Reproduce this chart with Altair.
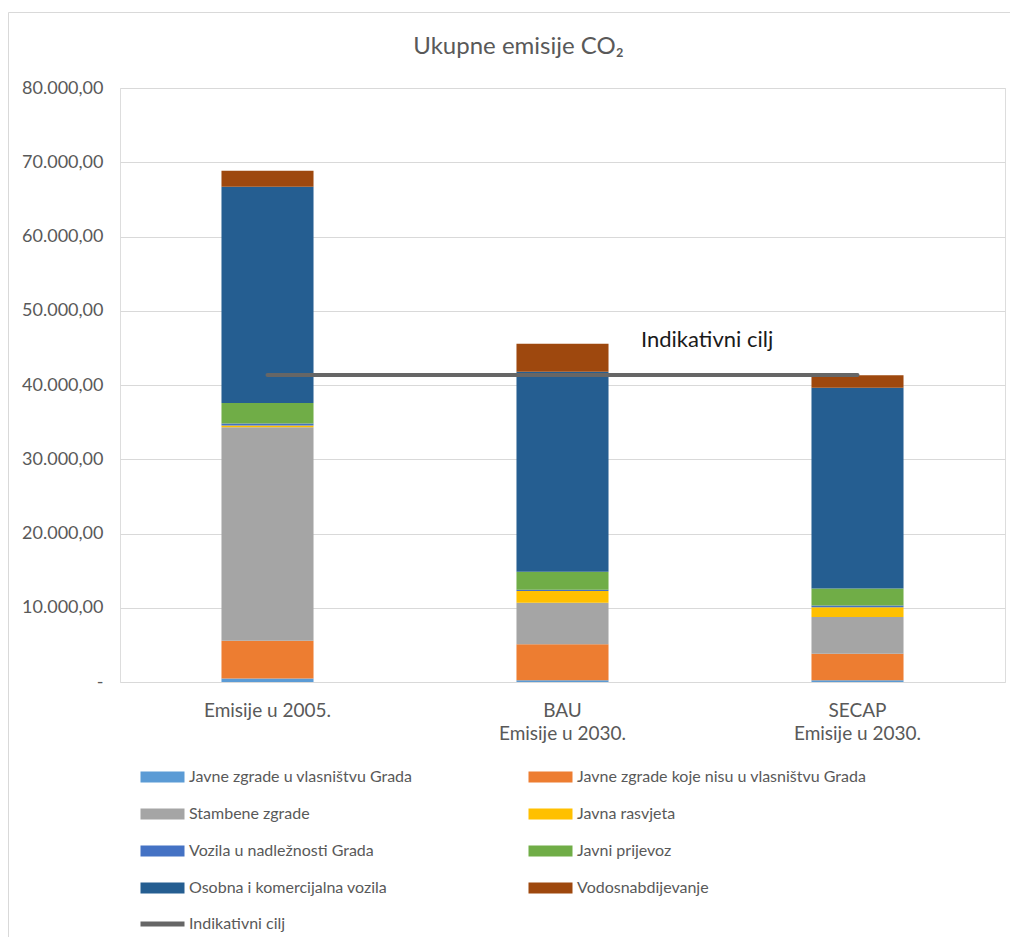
import altair as alt
import pandas as pd

categories = ["Emisije u 2005.", "BAU\nEmisije u 2030.", "SECAP\nEmisije u 2030."]
series = [
    "Javne zgrade u vlasništvu Grada",
    "Javne zgrade koje nisu u vlasništvu Grada",
    "Stambene zgrade",
    "Javna rasvjeta",
    "Vozila u nadležnosti Grada",
    "Javni prijevoz",
    "Osobna i komercijalna vozila",
    "Vodosnabdijevanje",
]
colors = ["#5b9bd5", "#ed7d31", "#a5a5a5", "#ffc000", "#4472c4", "#70ad47", "#255e91", "#9e480e"]

javne_vl = [460, 230, 220]
javne_nisu = [5110, 4860, 3600]
stambene = [28740, 5590, 4940]
rasvjeta = [250, 1570, 1310]
vozila = [260, 180, 220]
prijevoz = [2740, 2430, 2290]
osobna = [29150, 26940, 27060]
vodo = [2150, 3740, 1660]
series_values = [javne_vl, javne_nisu, stambene, rasvjeta, vozila, prijevoz, osobna, vodo]

target_name = "Indikativni cilj"
target_values = [41350, 41350, 41350]
y_ticks = [0, 10000, 20000, 30000, 40000, 50000, 60000, 70000, 80000]

rows = []
for i, (name, vals) in enumerate(zip(series, series_values)):
    for cat, v in zip(categories, vals):
        rows.append({"kategorija": cat, "sektor": name, "vrijednost": v, "red": i})
df = pd.DataFrame(rows)
df_target = pd.DataFrame({"kategorija": categories, "vrijednost": target_values, "naziv": [target_name] * 3})
df_label = pd.DataFrame({"kategorija": [categories[1]], "vrijednost": [target_values[1]], "tekst": [target_name]})

FONT = "Lato"
W, H = 885, 594

x_enc = alt.X(
    "kategorija:N",
    sort=categories,
    scale=alt.Scale(paddingInner=0.688, paddingOuter=0.344),
    axis=alt.Axis(
        title=None, labelAngle=0, domain=False, ticks=False,
        labelExpr="split(datum.label, '\\n')",
        labelFontSize=19, labelColor="#595959", labelPadding=19, labelLineHeight=23,
    ),
)
y_scale = alt.Scale(domain=[0, 80000], nice=False)
y_axis = alt.Axis(
    title=None, values=y_ticks, domain=False, ticks=False, grid=True,
    gridColor="#d9d9d9", gridWidth=1,
    labelFontSize=18, labelColor="#595959", labelPadding=17,
    labelExpr="datum.value == 0 ? '-' : replace(replace(replace(format(datum.value, ',.2f'), ',', '#'), '.', ','), '#', '.')",
)

rect_sym = "M-4,-1H4V1H-4Z"
line_sym = "M-4,0H4"

bars = alt.Chart(df).mark_bar().encode(
    x=x_enc,
    y=alt.Y("vrijednost:Q", stack="zero", scale=y_scale, axis=y_axis),
    color=alt.Color(
        "sektor:N",
        scale=alt.Scale(domain=series, range=colors),
        legend=alt.Legend(
            title=None, orient="none", legendX=34.5, legendY=681, columns=2,
            direction="horizontal",
            symbolType=rect_sym, symbolSize=121, symbolStrokeWidth=0,
            labelOffset=18.5, labelFontSize=16, labelColor="#595959", labelFont=FONT,
            columnPadding=116, rowPadding=21, labelLimit=400,
        ),
    ),
    order=alt.Order("red:Q", sort="ascending"),
)

line = alt.Chart(df_target).mark_line(strokeWidth=4, strokeCap="round").encode(
    x=alt.X("kategorija:N", sort=categories),
    y=alt.Y("vrijednost:Q"),
    stroke=alt.Stroke(
        "naziv:N",
        scale=alt.Scale(domain=[target_name], range=["#666666"]),
        legend=alt.Legend(
            title=None, orient="none", legendX=34.5, legendY=828,
            symbolType=line_sym, symbolSize=121, symbolStrokeWidth=5,
            labelOffset=18.5, labelFontSize=16, labelColor="#595959", labelFont=FONT,
        ),
    ),
)

label = alt.Chart(df_label).mark_text(
    align="left", baseline="alphabetic", dx=78.5, dy=-28, fontSize=22, font=FONT, color="#1a1a1a"
).encode(
    x=alt.X("kategorija:N", sort=categories),
    y=alt.Y("vrijednost:Q"),
    text="tekst:N",
)

border = alt.Chart(pd.DataFrame({"a": [0]})).mark_rect(
    fill="transparent", stroke="#d9d9d9", strokeWidth=1, clip=False
).encode(
    x=alt.value(-111.5), x2=alt.value(1200), y=alt.value(-75.5), y2=alt.value(1200)
)

chart = alt.layer(border, bars, line, label).properties(
    width=W, height=H,
    title=alt.TitleParams(
        "Ukupne emisije CO₂", fontSize=24, color="#595959", font=FONT, fontWeight="normal",
        anchor="middle", dx=-44, offset=-47,
    ),
    padding={"left": 112, "top": 80, "right": 5, "bottom": 255},
    autosize=alt.AutoSizeParams(type="none"),
).configure_view(stroke="transparent").configure(font=FONT)

chart.save("out.html", embed_options={"renderer": "svg", "actions": False})
